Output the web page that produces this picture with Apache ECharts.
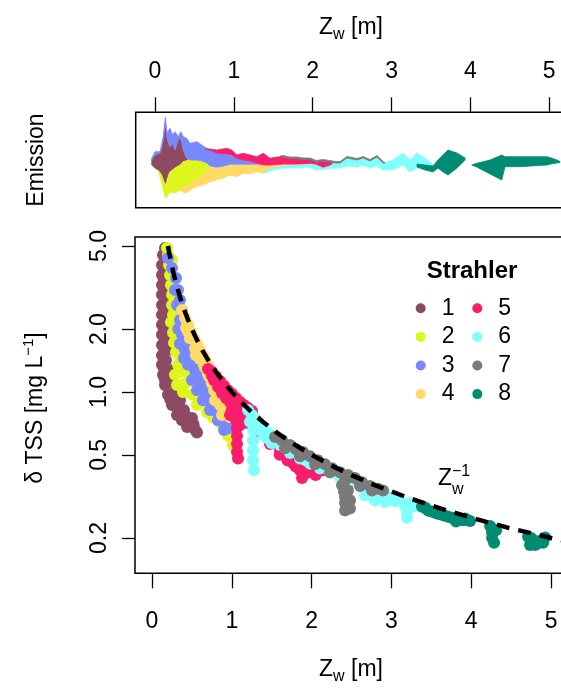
<!DOCTYPE html>
<html><head><meta charset="utf-8">
<script src="https://cdn.jsdelivr.net/npm/echarts@6/dist/echarts.min.js"></script>
<style>html,body{margin:0;padding:0;background:#fff;}#c{width:561px;height:691px;}</style>
</head><body><div id="c"></div>
<script>
// ---------- data ----------
const strahler = ['1','2','3','4','5','6','7','8'];
const xTicks = [0,1,2,3,4,5];
const yTicks = [0.2,0.5,1,2,5];
const yTickLabels = ['0.2','0.5','1.0','2.0','5.0'];

// reference curve Z_w^-1
const refX = [0.2,0.22,0.25,0.28,0.32,0.36,0.4,0.45,0.5,0.56,0.63,0.71,0.8,0.9,1.0,1.12,1.25,1.4,1.6,1.8,2.0,2.25,2.5,2.8,3.2,3.6,4.0,4.5,5.0,5.6];
const refY = [5,4.545,4,3.571,3.125,2.778,2.5,2.222,2,1.786,1.587,1.408,1.25,1.111,1,0.893,0.8,0.714,0.625,0.556,0.5,0.444,0.4,0.357,0.3125,0.278,0.25,0.222,0.2,0.179];

// delta TSS vs Z_w, per Strahler order  [Zw, dTSS]
const tss1 = [[0.163,4.89],[0.138,4.53],[0.125,4.05],[0.125,3.63],[0.125,3.25],[0.125,2.92],[0.125,2.61],[0.125,2.34],[0.125,2.10],[0.125,1.88],[0.125,1.68],[0.125,1.50],[0.125,1.35],[0.138,1.21],[0.163,1.08],[0.2,0.97],[0.251,0.866],[0.313,0.776],[0.376,0.733],[0.439,0.68],[0.564,0.64],[0.188,4.28],[0.188,3.44],[0.188,2.76],[0.188,2.21],[0.188,1.77],[0.175,1.42],[0.213,1.14],[0.263,0.97],[0.313,0.866],[0.414,0.776],[0.476,0.694],[0.251,1.59],[0.251,1.27],[0.30,1.08],[0.351,0.914],[0.501,0.75],[0.15,3.0],[0.15,2.0],[0.15,1.3],[0.2,1.2],[0.28,1.0],[0.4,0.82],[0.52,0.7],[0.15,4.5],[0.15,4.0],[0.15,3.5],[0.15,2.5],[0.15,1.7],[0.175,3.8],[0.175,3.0],[0.175,2.4],[0.175,1.9],[0.175,1.6],[0.16,1.15],[0.23,0.92],[0.33,0.8],[0.45,0.72],[0.54,0.66]];
const tss2 = [[0.188,4.89],[0.200,4.53],[0.213,4.05],[0.226,3.63],[0.238,3.25],[0.251,2.92],[0.251,2.61],[0.263,2.34],[0.238,2.16],[0.263,1.92],[0.276,1.72],[0.301,1.55],[0.351,1.50],[0.326,1.35],[0.414,1.27],[0.288,1.21],[0.313,1.08],[0.476,1.18],[0.388,1.00],[0.501,0.97],[0.564,0.866],[0.601,0.914],[0.689,0.80],[0.764,0.755],[0.852,0.713],[1.015,0.557],[0.664,0.97],[0.451,1.42],[0.376,1.77],[0.326,2.10],[0.301,2.76],[0.288,3.44],[0.251,4.28],[0.5,1.3],[0.55,1.1],[0.62,1.0],[0.7,0.88],[0.8,0.78],[0.9,0.68],[0.95,0.62],[0.42,1.1],[0.36,1.25],[0.33,1.6],[0.3,1.9],[0.27,3.0],[0.28,2.5],[0.3,2.3]];
const tss3 = [[0.200,4.38],[0.251,3.92],[0.301,3.51],[0.326,3.08],[0.351,2.76],[0.376,2.47],[0.401,2.21],[0.426,1.98],[0.451,1.77],[0.476,1.59],[0.501,1.42],[0.539,1.27],[0.576,1.16],[0.627,1.07],[0.677,0.99],[0.727,0.914],[0.789,0.836],[0.852,0.776],[0.927,0.72],[0.977,0.672],[0.288,3.08],[0.313,2.61],[0.351,2.21],[0.376,1.88],[0.414,1.59],[0.451,1.35],[0.501,1.14],[0.564,1.02],[0.639,0.914],[0.727,0.819],[0.827,0.733],[0.902,0.657],[0.476,1.88],[0.539,1.50],[0.601,1.30],[0.33,2.0],[0.42,1.7],[0.5,1.35],[0.46,1.5],[0.55,1.2],[0.6,1.1],[0.68,0.95],[0.75,0.87],[0.82,0.8],[0.88,0.75],[0.4,1.45],[0.35,1.7]];
const tss4 = [[0.376,2.47],[0.414,2.26],[0.451,2.10],[0.489,1.94],[0.526,1.81],[0.564,1.70],[0.601,1.59],[0.639,1.49],[0.677,1.40],[0.714,1.31],[0.752,1.24],[0.789,1.17],[0.827,1.11],[0.852,1.04],[0.877,0.99],[0.426,2.03],[0.476,1.81],[0.539,1.62],[0.601,1.44],[0.664,1.31],[0.727,1.17],[0.777,1.02],[0.789,0.914],[0.852,0.866],[0.952,0.819],[0.915,0.914],[0.977,0.758],[0.877,0.776],[0.7,1.22],[0.75,1.1],[0.8,1.05],[0.65,1.35],[0.55,1.5],[0.45,1.95]];
const tss5 = [[0.702,1.29],[0.752,1.25],[0.802,1.19],[0.852,1.13],[0.902,1.07],[0.952,1.02],[1.002,0.98],[1.053,0.935],[1.103,0.895],[1.153,0.866],[1.203,0.838],[1.253,0.81],[0.777,1.14],[0.827,1.06],[0.877,0.99],[0.927,0.935],[0.977,0.895],[1.028,0.856],[1.078,0.819],[1.128,0.793],[1.178,0.768],[1.053,0.733],[1.065,0.672],[1.065,0.615],[1.065,0.563],[1.065,0.516],[1.078,0.48],[1.303,0.733],[1.378,0.672],[1.429,0.615],[1.479,0.563],[1.541,0.588],[1.604,0.526],[1.692,0.483],[1.767,0.457],[1.855,0.422],[1.880,0.387],[1.980,0.431],[2.068,0.413],[2.143,0.422],[0.977,0.776],[1.103,0.694],[0.75,1.2],[0.85,1.05],[0.95,0.95],[1.05,0.87],[1.15,0.8],[1.25,0.75],[1.0,0.82],[1.1,0.76],[1.2,0.71],[1.3,0.69],[1.35,0.64],[1.45,0.6],[1.6,0.5],[1.7,0.47],[1.8,0.44],[1.95,0.41],[2.05,0.4]];
const tss6 = [[1.203,0.819],[1.253,0.776],[1.303,0.733],[1.353,0.694],[1.416,0.657],[1.479,0.628],[1.541,0.60],[1.228,0.72],[1.266,0.657],[1.266,0.588],[1.266,0.526],[1.266,0.471],[1.278,0.422],[1.604,0.557],[1.729,0.51],[1.855,0.48],[1.980,0.454],[2.105,0.43],[2.231,0.41],[2.356,0.39],[2.481,0.37],[2.607,0.355],[2.732,0.338],[2.857,0.325],[2.982,0.313],[3.108,0.303],[3.233,0.294],[3.358,0.284],[2.67,0.32],[2.795,0.303],[2.92,0.297],[3.17,0.287],[3.196,0.268],[3.196,0.25],[3.258,0.284],[1.3,0.7],[1.35,0.66],[1.4,0.62],[1.45,0.6],[1.5,0.57],[1.55,0.58],[3.0,0.305],[3.05,0.3],[3.3,0.285],[3.4,0.278]];
const tss7 = [[1.541,0.609],[1.629,0.588],[1.729,0.557],[1.804,0.532],[1.892,0.516],[1.980,0.493],[2.080,0.471],[2.168,0.451],[2.256,0.431],[2.356,0.413],[2.456,0.40],[2.544,0.387],[2.632,0.37],[2.732,0.355],[2.832,0.344],[2.895,0.338],[1.667,0.538],[1.855,0.493],[2.043,0.451],[2.231,0.413],[2.419,0.378],[2.607,0.355],[2.757,0.338],[2.381,0.358],[2.406,0.334],[2.419,0.313],[2.419,0.294],[2.419,0.271],[2.456,0.338],[2.481,0.303],[2.481,0.277]];
const tss8 = [[3.383,0.283],[3.459,0.271],[3.534,0.266],[3.609,0.26],[3.684,0.255],[3.759,0.25],[3.81,0.24],[3.86,0.245],[3.922,0.248],[3.985,0.241],[4.236,0.228],[4.261,0.213],[4.261,0.2],[4.286,0.19],[4.311,0.218],[4.712,0.203],[4.774,0.195],[4.837,0.189],[4.887,0.195],[4.925,0.201],[4.80,0.185],[4.737,0.185],[3.42,0.28],[3.5,0.268],[3.57,0.262],[3.65,0.257],[3.72,0.252],[3.9,0.243],[4.75,0.2],[4.82,0.193],[4.9,0.19]];

// emission ribbons per order  [Zw, lower, upper]  (arbitrary emission units)
const emis1 = [[-0.042,-5,0],[0,-8,5],[0.038,-10,6.5],[0.063,-12,7],[0.085,-15,10],[0.105,-20,20],[0.131,-25,37],[0.152,-18,22],[0.178,-12,13],[0.216,-10,17],[0.254,-8,10],[0.292,-6,20],[0.317,-5,23],[0.355,-1,10],[0.393,-1,2],[0.419,-0.5,0]];
const emis2 = [[0.038,-10,-10],[0.085,-23,-15],[0.114,-33,-22],[0.14,-38,-25],[0.165,-35,-18],[0.19,-32,-12],[0.254,-33,-8],[0.317,-30,-5],[0.38,-27,-1],[0.444,-24,0],[0.529,-19,0],[0.621,-14,-2],[0.698,-7,-6]];
const emis3 = [[-0.042,0,1.7],[0,5,8.3],[0.063,7,8.3],[0.105,20,23.3],[0.131,37,43],[0.152,22,26.7],[0.19,13,31.7],[0.224,17,25],[0.254,10,28.3],[0.296,20,23.3],[0.326,23,28.3],[0.359,10,23.3],[0.402,2,21.7],[0.444,0,16.7],[0.529,0,18.3],[0.592,-1,15],[0.656,-3,11.7],[0.698,-6,10],[0.782,-8,7],[0.951,-5,5],[1.116,-5,0],[1.294,-5,-3],[1.357,-5,-5]];
const emis4 = [[0.317,-30,-30],[0.38,-33.3,-27],[0.444,-30,-24],[0.529,-26.7,-19],[0.613,-25,-15],[0.698,-21.7,-7],[0.782,-20,-8],[0.866,-18.3,-7],[0.951,-15,-5],[1.036,-16.7,-5],[1.12,-13.3,-5],[1.205,-14,-5],[1.29,-11.7,-5],[1.374,-13.3,-5],[1.458,-9,-5],[1.543,-8,-4.5],[1.627,-6,-4],[1.712,-6,-4],[1.801,-5.5,-4],[1.877,-4.5,-4]];
const emis5 = [[0.634,11,11],[0.698,10,11],[0.782,7,10],[0.909,6,11.7],[0.973,5,10],[1.036,2,5],[1.116,0,6.7],[1.205,-1,5],[1.29,-3,3.3],[1.374,-5,6.7],[1.458,-5,1.7],[1.543,-4.5,3],[1.627,-4,3],[1.712,-4,1.5],[1.801,-4,1.5],[1.877,-4,0.5],[1.966,-4,0.5],[2.042,-5,-2],[2.131,-8,-1],[2.219,-6,-2],[2.257,-3,-3]];
const emis6 = [[1.395,-13,-12],[1.458,-11,-9],[1.623,-8,-6],[1.801,-8,-5.5],[1.966,-7,-4],[2.042,-10,-5],[2.131,-9.5,-8],[2.219,-8.5,-6],[2.283,-8,-3],[2.346,-8,-3],[2.435,-6,2],[2.562,-7,0],[2.638,-5,2],[2.727,-8,-1],[2.815,-6,3],[2.892,-10,-3],[3.018,-10,0],[3.145,-5,7],[3.234,-12,0],[3.323,-8,7],[3.399,-8,3],[3.488,-10,-2],[3.526,-6,-5]];
const emis7 = [[1.585,3,4],[1.627,3,4.5],[1.712,1.5,3],[1.801,1.5,3],[1.877,0.5,2],[1.966,0.5,2],[2.042,-2,-0.5],[2.131,-1,0.5],[2.219,-2,-0.5],[2.283,-3,-1.5],[2.346,-3,-1.5],[2.435,2,3.5],[2.562,0,1.5],[2.638,2,3.5],[2.727,-1,0.5],[2.815,3,4.5],[2.892,-3,-1.5],[2.917,-3,-3]];
const emis8a = [[3.323,-7,-4],[3.424,-10,-5],[3.526,-12,-6],[3.589,-8,0],[3.653,-12,5],[3.716,-15,10],[3.83,-8,7],[3.932,0,2]];
const emis8b = [[4.017,-5,-5],[4.08,-7,-3.3],[4.249,-14,0],[4.397,-20,5],[4.439,-6.7,3.3],[4.629,-6.7,3.3],[4.971,-5,3.3],[5.048,-3.5,1.5],[5.098,-3,0],[5.136,-2.5,-1.5]];

// ---------- styling ----------
const colors = ['#8E4A63','#DDF71E','#7888FF','#FFDA66','#FA1C6D','#80FFFF','#7A7A7A','#008C73'];
const FONT = '"Liberation Sans", Arial, Helvetica, sans-serif';
const tssSets = [tss1,tss2,tss3,tss4,tss5,tss6,tss7,tss8];
const emisSets = [[emis1],[emis2],[emis3],[emis4],[emis5],[emis6],[emis7],[emis8a,emis8b]];

const series = [];
emisSets.forEach((segs, k) => {
  segs.forEach((rows, j) => {
    series.push({
      type: 'custom', name: 'E' + strahler[k] + '_' + j,
      xAxisIndex: 0, yAxisIndex: 0,
      data: rows, encode: {x: 0, y: [1, 2]},
      silent: true, z: 2,
      renderItem: function (params, api) {
        if (params.dataIndex !== 0) return null;
        const top = rows.map(r => api.coord([r[0], r[2]]));
        const bot = rows.slice().reverse().map(r => api.coord([r[0], r[1]]));
        return {type: 'polygon', shape: {points: top.concat(bot)},
                style: {fill: colors[k], stroke: colors[k], lineWidth: 0.8}};
      }
    });
  });
});
tssSets.forEach((pts, k) => {
  series.push({
    type: 'scatter', name: strahler[k], xAxisIndex: 1, yAxisIndex: 1,
    symbol: 'circle', symbolSize: 12, z: 3,
    itemStyle: {color: colors[k], opacity: 1},
    data: pts.map(p => [p[0], Math.log10(p[1])])
  });
});
series.push({
  type: 'line', name: 'ref', xAxisIndex: 1, yAxisIndex: 1, z: 5,
  symbol: 'none', silent: true,
  lineStyle: {color: '#000', width: 4.5, type: [13, 9]},
  data: refX.map((x, i) => [x, Math.log10(refY[i])])
});

const labelTxt = {fontFamily: FONT, fontSize: 23, color: '#000'};
const legendBase = {
  orient: 'vertical', top: 296.8, itemWidth: 32, itemHeight: 10, itemGap: 5.6,
  icon: 'circle', padding: 0, selectedMode: false,
  textStyle: {fontFamily: FONT, fontSize: 23, color: '#000', lineHeight: 23}
};
const tickStyle = {color: '#000', width: 1.3};

const option = {
  animation: false,
  backgroundColor: '#fff',
  grid: [
    {left: 135.7, top: 112.3, right: -6, bottom: 483.3, show: true, borderColor: '#000', borderWidth: 1.5, backgroundColor: 'transparent', outerBoundsMode: 'none', containLabel: false},
    {left: 135, top: 237, right: -6, bottom: 117.7, show: true, borderColor: '#000', borderWidth: 1.5, backgroundColor: 'transparent', outerBoundsMode: 'none', containLabel: false}
  ],
  xAxis: [
    {type: 'value', gridIndex: 0, position: 'top', min: -0.245, max: 5.225,
     axisLine: {show: false, onZero: false}, splitLine: {show: false},
     axisTick: {show: true, length: 15, customValues: xTicks, lineStyle: tickStyle},
     axisLabel: Object.assign({customValues: xTicks, margin: 29}, labelTxt)},
    {type: 'value', gridIndex: 1, position: 'bottom', min: -0.213, max: 5.2,
     axisLine: {show: false, onZero: false}, splitLine: {show: false},
     axisTick: {show: true, length: 15, customValues: xTicks, lineStyle: tickStyle},
     axisLabel: Object.assign({customValues: xTicks, margin: 37}, labelTxt)}
  ],
  yAxis: [
    {type: 'value', gridIndex: 0, min: -47.7, max: 47.7,
     axisLine: {show: false, onZero: false}, axisTick: {show: false}, axisLabel: {show: false}, splitLine: {show: false}},
    {type: 'value', gridIndex: 1, min: -0.868, max: 0.742, position: 'left',
     axisLine: {show: false, onZero: false}, splitLine: {show: false},
     axisTick: {show: true, length: 13, customValues: yTicks.map(Math.log10), lineStyle: tickStyle},
     axisLabel: Object.assign({
       customValues: yTicks.map(Math.log10), rotate: 90, margin: 24,
       formatter: function (v) {
         for (let i = 0; i < yTicks.length; i++) if (Math.abs(Math.log10(yTicks[i]) - v) < 1e-6) return yTickLabels[i];
         return '';
       }}, labelTxt)}
  ],
  legend: [
    Object.assign({data: strahler.slice(0, 4), left: 415.7}, legendBase),
    Object.assign({data: strahler.slice(4, 8), left: 472.3}, legendBase)
  ],
  graphic: [
    {type: 'text', x: 351, y: 28, style: {text: '{a|Z}{s|w}{a| [m]}', align: 'center', verticalAlign: 'middle', textAlign: 'center', textVerticalAlign: 'middle',
      rich: {a: {fontFamily: FONT, fontSize: 23, lineHeight: 30, fill: '#000'}, s: {fontFamily: FONT, fontSize: 16, lineHeight: 16, verticalAlign: 'bottom', fill: '#000'}}}},
    {type: 'text', x: 351, y: 670, style: {text: '{a|Z}{s|w}{a| [m]}', align: 'center', verticalAlign: 'middle', textAlign: 'center', textVerticalAlign: 'middle',
      rich: {a: {fontFamily: FONT, fontSize: 23, lineHeight: 30, fill: '#000'}, s: {fontFamily: FONT, fontSize: 16, lineHeight: 16, verticalAlign: 'bottom', fill: '#000'}}}},
    {type: 'text', x: 37, y: 160, rotation: Math.PI / 2, style: {text: 'Emission', font: '23px ' + FONT, fill: '#000', align: 'center', verticalAlign: 'middle', textAlign: 'center', textVerticalAlign: 'middle'}},
    {type: 'text', x: 36, y: 408, rotation: Math.PI / 2, style: {text: '{a|δ TSS [mg L}{p|−1}{a|]}', align: 'center', verticalAlign: 'middle', textAlign: 'center', textVerticalAlign: 'middle',
      rich: {a: {fontFamily: FONT, fontSize: 23, lineHeight: 30, fill: '#000'}, p: {fontFamily: FONT, fontSize: 15, lineHeight: 15, verticalAlign: 'top', fill: '#000'}}}},
    {type: 'text', x: 472, y: 271, style: {text: 'Strahler', font: 'bold 24px ' + FONT, fill: '#000', align: 'center', verticalAlign: 'middle', textAlign: 'center', textVerticalAlign: 'middle'}},
    {type: 'text', x: 438, y: 479, style: {text: 'Z', font: '23px ' + FONT, fill: '#000', align: 'left', verticalAlign: 'middle', textAlign: 'left', textVerticalAlign: 'middle'}},
    {type: 'text', x: 452, y: 490, style: {text: 'w', font: '16px ' + FONT, fill: '#000', align: 'left', verticalAlign: 'middle', textAlign: 'left', textVerticalAlign: 'middle'}},
    {type: 'text', x: 452, y: 472, style: {text: '−1', font: '16px ' + FONT, fill: '#000', align: 'left', verticalAlign: 'middle', textAlign: 'left', textVerticalAlign: 'middle'}}
  ],
  series: series
};
const chart = echarts.init(document.getElementById('c'), null, {renderer: 'canvas'});
chart.setOption(option);
</script>
</body></html>
